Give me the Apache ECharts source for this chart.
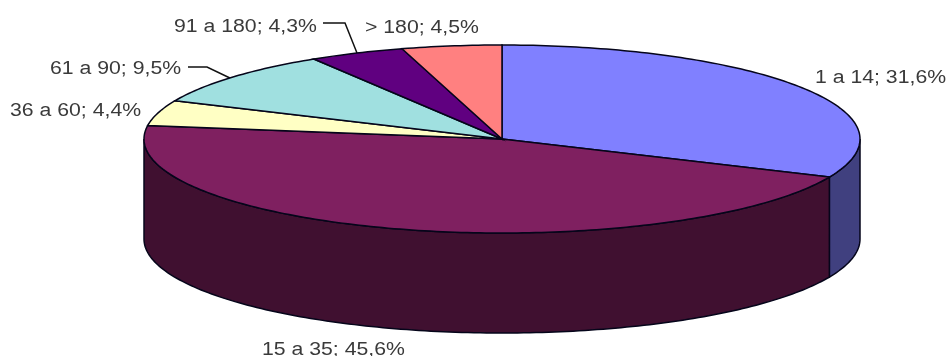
<!DOCTYPE html>
<html>
<head>
<meta charset="utf-8">
<style>
  html, body { margin: 0; padding: 0; background: #fff; }
  #chart { width: 949px; height: 356px; }
</style>
<script src="https://cdn.jsdelivr.net/npm/echarts@6/dist/echarts.min.js"></script>
</head>
<body>
<div id="chart"></div>
<script>
// Share of cases per range of days
var categories = ['1 a 14', '15 a 35', '36 a 60', '61 a 90', '91 a 180', '> 180'];
var values = [31.6, 45.6, 4.4, 9.5, 4.3, 4.5];
var topColors = ['#8080ff', '#7f2060', '#ffffc4', '#a0e0e0', '#600080', '#ff8080'];
var sideColors = ['#40407f', '#401030', '#80805f', '#507070', '#300040', '#804040'];

// Disc geometry: centre, radii of the tilted top face, height of the rim
var disc = { cx: 502, cy: 139, rx: 358, ry: 94, depth: 100 };
var outline = '#05051a';

// Label anchors: [x, y] of each category's text, in category order
var labelAnchors = [
  [815, 78], [262, 350], [10, 111], [50, 69], [174, 27], [365, 28]
];
// Leader lines for the two labels that sit away from their slice
var leaders = {
  3: [[188, 67], [207, 67], [232, 79]],
  4: [[323, 23], [345, 23], [357, 53]]
};

var total = values.reduce(function (a, b) { return a + b; }, 0);

function rimPoint(deg, drop) {
  var r = deg * Math.PI / 180;
  return [disc.cx + disc.rx * Math.sin(r), disc.cy - disc.ry * Math.cos(r) + (drop || 0)];
}
function arcPoints(from, to, drop) {
  var pts = [];
  var n = Math.max(2, Math.ceil(Math.abs(to - from)));
  for (var i = 0; i <= n; i++) pts.push(rimPoint(from + (to - from) * i / n, drop));
  return pts;
}

function renderSlice(params, api) {
  var i = params.dataIndex;
  var before = 0;
  for (var k = 0; k < i; k++) before += values[k];
  var start = before / total * 360;
  var end = (before + api.value(0)) / total * 360;
  var children = [];

  // Rim is only visible on the near half of the disc
  var a = Math.max(start, 90), b = Math.min(end, 270);
  if (b > a) {
    children.push({
      type: 'polygon',
      shape: { points: arcPoints(a, b, 0).concat(arcPoints(b, a, disc.depth)) },
      style: { fill: sideColors[i], stroke: outline, lineWidth: 1.5 }
    });
  }
  children.push({
    type: 'polygon',
    shape: { points: [[disc.cx, disc.cy]].concat(arcPoints(start, end, 0)) },
    style: { fill: topColors[i], stroke: outline, lineWidth: 1.5 }
  });
  return { type: 'group', children: children };
}

var graphics = [];
categories.forEach(function (name, i) {
  graphics.push({
    type: 'text',
    x: labelAnchors[i][0],
    y: labelAnchors[i][1],
    scaleX: 1.18,
    style: {
      text: name + '; ' + values[i].toFixed(1).replace('.', ',') + '%',
      fill: '#3a3a3a',
      verticalAlign: 'middle',
      font: '18px "Liberation Sans", Arial, sans-serif'
    }
  });
  if (leaders[i]) {
    graphics.push({
      type: 'polyline',
      shape: { points: leaders[i] },
      style: { stroke: '#111', lineWidth: 1.5, fill: null }
    });
  }
});

var chart = echarts.init(document.getElementById('chart'), null, { renderer: 'canvas' });
chart.setOption({
  animation: false,
  backgroundColor: '#ffffff',
  graphic: graphics,
  series: [{
    type: 'custom',
    coordinateSystem: 'none',
    renderItem: renderSlice,
    data: values.map(function (v, i) { return { name: categories[i], value: [v] }; }),
    silent: true
  }]
});
</script>
</body>
</html>
